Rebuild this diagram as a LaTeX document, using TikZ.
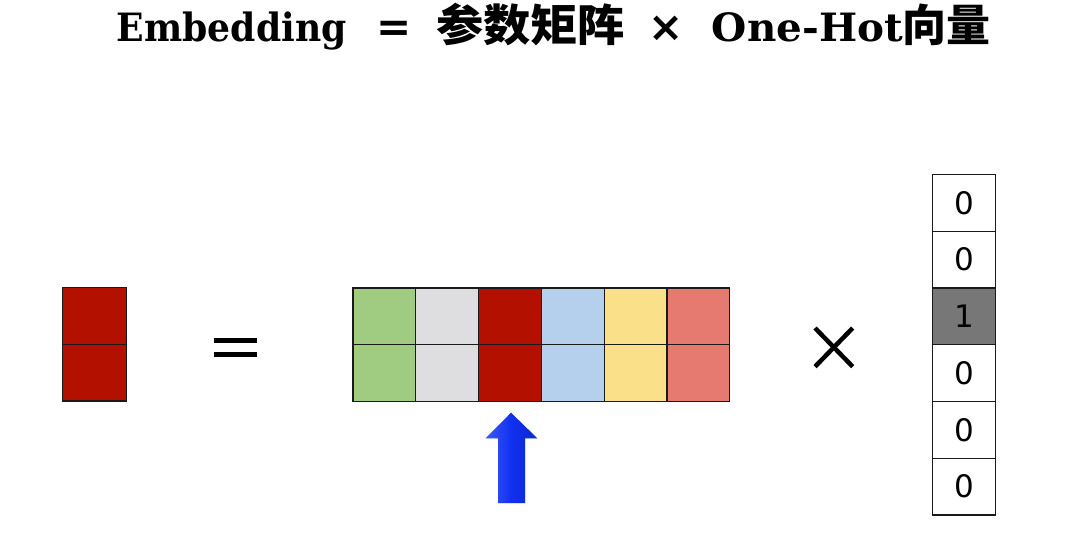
\documentclass[tikz,border=0pt]{standalone}
\usepackage{fontspec}
\usepackage{graphicx}
\setmainfont{DejaVu Serif}
\newfontfamily\cjkf{Noto Sans CJK SC}
\newfontfamily\digitf{DejaVu Sans}
\definecolor{cgreen}{HTML}{A0CC82}
\definecolor{cgray}{HTML}{DEDDDF}
\definecolor{cred}{HTML}{B41000}
\definecolor{cblue}{HTML}{B4D0EC}
\definecolor{cyellow}{HTML}{FBE08A}
\definecolor{csalmon}{HTML}{E67A70}
\definecolor{chot}{HTML}{777777}
\definecolor{cline}{HTML}{1A1A1A}
\definecolor{carrow}{HTML}{1030F0}
\tikzset{
  cell/.style={draw=cline, line width=1.3pt, minimum width=62.8pt, minimum height=56.7pt, inner sep=0pt, anchor=north west},
  vcell/.style={draw=cline, line width=1.3pt, minimum width=63.3pt, minimum height=56.7pt, inner sep=0pt, anchor=north west, font=\digitf\fontsize{31}{31}\selectfont, text=black},
  opline/.style={line width=5pt, black},
  ttl/.style={inner sep=0pt, anchor=base west, font=\fontsize{39}{39}\selectfont\bfseries},
  ttlop/.style={inner sep=0pt, anchor=base, font=\digitf\fontsize{42}{42}\selectfont\bfseries},
  ttlc/.style={inner sep=0pt, anchor=base west, font=\cjkf\fontsize{44}{44}\selectfont\bfseries}
}
\begin{document}
\begin{tikzpicture}[x=1pt,y=-1pt]
\useasboundingbox[fill=white] (0,0) rectangle (1092,540);
% title
\node[ttl] (t1) at (116.7,41.7) {\resizebox{230pt}{\height}{Embedding}};
\node[ttlop] (t2) at (394.3,41.7) {=};
\node[ttlc] (t3) at (436,41.7) {\resizebox{189pt}{\height}{参数矩阵}};
\node[ttlop] (t4) at (666.5,41.7) {×};
\node[ttl] (t5) at (711.7,41.7) {\resizebox{191pt}{\height}{One-Hot}};
\node[ttlc] (t6) at (902,41.7) {向量};
% left result vector
\node[cell, fill=cred, minimum width=63.5pt] (r1) at (62,287) {};
\node[cell, fill=cred, minimum width=63.5pt] (r2) at (62,343.7) {};
% equals
\coordinate (eqa) at (214,340.3);
\coordinate (eqb) at (256.7,340.3);
\coordinate (eqc) at (214,354.7);
\coordinate (eqd) at (256.7,354.7);
\draw[opline] (eqa) -- (eqb);
\draw[opline] (eqc) -- (eqd);
% matrix
\foreach \c [count=\i from 0] in {cgreen,cgray,cred,cblue,cyellow,csalmon}{
  \node[cell, fill=\c] (m1\i) at ({352.3+62.8*\i},287.3) {};
  \node[cell, fill=\c] (m2\i) at ({352.3+62.8*\i},344) {};
}
% arrow
\coordinate (atip) at (511,412.7);
\coordinate (al) at (485.7,438.3);
\coordinate (ar) at (537.3,438.3);
\coordinate (asl) at (498,438.3);
\coordinate (asr) at (525,438.3);
\coordinate (abl) at (498,503);
\coordinate (abr) at (525,503);
\fill[black, opacity=0.18, xshift=2.5pt, yshift=-3pt] (atip) -- (ar) -- (asr) -- (abr) -- (abl) -- (asl) -- (al) -- cycle;
\shade[left color=carrow!80!white, right color=carrow!85!black, middle color=carrow] (atip) -- (ar) -- (asr) -- (abr) -- (abl) -- (asl) -- (al) -- cycle;
% times
\coordinate (ta) at (815,328);
\coordinate (tb) at (852.7,366.7);
\coordinate (tc) at (815,366.7);
\coordinate (td) at (852.7,328);
\draw[opline, line width=4.5pt] (ta) -- (tb);
\draw[opline, line width=4.5pt] (tc) -- (td);
% one-hot vector
\foreach \v [count=\i from 0] in {0,0,1,0,0,0}{
  \ifnum\v=1
    \node[vcell, fill=chot] (v\i) at (931.7,{174+56.7*\i}) {\v};
  \else
    \node[vcell, fill=white] (v\i) at (931.7,{174+56.7*\i}) {\v};
  \fi
}
\end{tikzpicture}
\end{document}
